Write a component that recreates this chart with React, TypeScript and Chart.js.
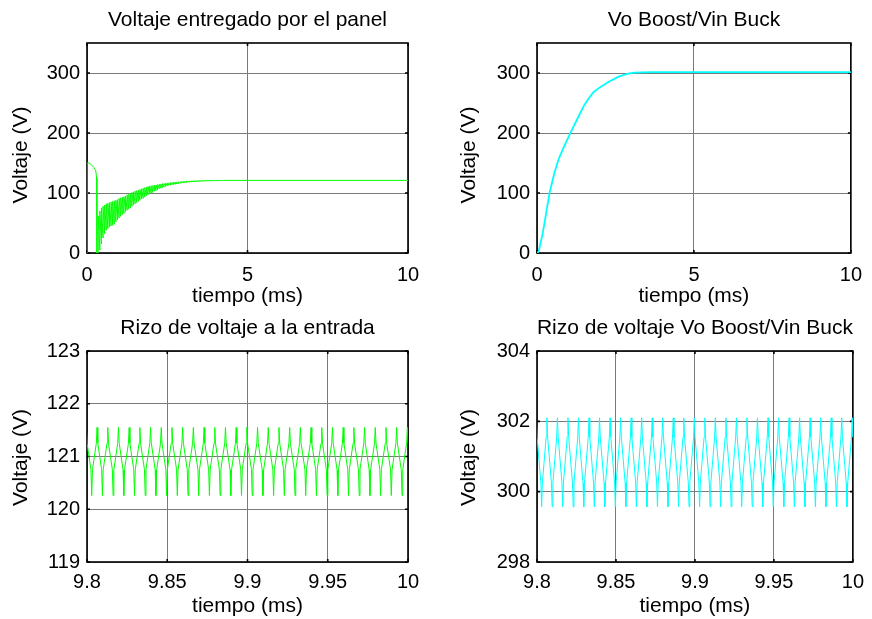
import React, { useEffect, useRef } from "react";
import { Chart, registerables } from "chart.js";
Chart.register(...registerables);

const FONT = "'Liberation Sans', Arial, Helvetica, sans-serif";
const GREEN = "#00ff00";
const CYAN = "#00ffff";

// ---------- Panel 1: Voltaje entregado por el panel ----------
const panelStartTime = [0, 0, 0.08, 0.22, 0.27, 0.3, 0.31];
const panelStartVolt = [0, 150, 150, 142, 138, 125, 0];
const spikeTimes = [
  0.35, 0.4, 0.45, 0.5, 0.55, 0.6, 0.65, 0.7, 0.75, 0.8, 0.85, 0.9, 0.95, 1.0,
  1.05, 1.1, 1.15, 1.2, 1.25, 1.3, 1.35, 1.4, 1.45, 1.5, 1.55, 1.6, 1.65, 1.7, 1.75, 1.8, 1.85, 1.9, 1.95, 2.0,
  2.05, 2.1, 2.15, 2.2, 2.25, 2.3, 2.35, 2.4, 2.45, 2.5, 2.55, 2.6, 2.65, 2.7, 2.75, 2.8, 2.85, 2.9, 2.95, 3.0,
  3.05, 3.1, 3.15, 3.2, 3.25, 3.3, 3.35, 3.4, 3.45, 3.5, 3.55, 3.6, 3.65, 3.7, 3.75, 3.8, 3.85, 3.9, 3.95, 4.0,
  4.05, 4.1, 4.15, 4.2, 4.25, 4.3,
];
const spikeHigh = [
  62, 70, 75, 78, 80, 82, 83, 84, 85, 86, 87, 88, 89, 91,
  92, 93, 94, 95, 97, 98, 99, 101, 102, 103, 104, 105, 106, 107, 108, 109, 110, 111, 111.5, 112,
  112.5, 113, 113.5, 114, 114.5, 115, 115.5, 116, 116.3, 116.6, 117, 117.3, 117.6, 118, 118.2, 118.5, 118.7, 119, 119.2, 119.4,
  119.6, 119.8, 120, 120, 120.2, 120.3, 120.4, 120.5, 120.5, 120.6, 120.7, 120.8, 120.8, 120.9, 121, 121, 121, 121, 121, 121,
  121, 121, 121, 121, 121, 121,
];
const spikeLow = [
  0, 5, 15, 25, 32, 38, 41, 43, 45, 46, 48, 52, 55, 58,
  61, 64, 66, 69, 71, 73, 75, 78, 80, 82, 84, 86, 88, 90, 91, 93, 95, 97, 98, 100,
  101, 103, 104, 105, 107, 108, 109, 110, 111, 112, 112.5, 113, 113.5, 114, 114.5, 115, 115.5, 116, 116.5, 117,
  117.3, 117.6, 117.9, 118.2, 118.4, 118.6, 118.8, 119, 119.2, 119.3, 119.5, 119.6, 119.7, 119.8, 119.9, 120, 120.1, 120.2, 120.3, 120.3,
  120.4, 120.5, 120.6, 120.7, 120.8, 120.9,
];
const panelEndTime = [10];
const panelEndVolt = [121];

// ---------- Panel 2: Vo Boost/Vin Buck ----------
const boostTime = [0, 0.05, 0.18, 0.4, 0.55, 0.7, 0.85, 1.1, 1.3, 1.5, 1.65, 1.8, 2.0, 2.27, 2.6, 2.9, 3.1, 3.6, 10];
const boostVolt = [0, 2, 32, 100, 133, 158, 176, 204, 225, 246, 258, 268, 276, 285, 294, 299, 300.5, 301.5, 301.5];

// ---------- Panels 3 & 4: ripple (one read cycle, repeated) ----------
const ripplePhase = [0, 0.07, 0.43, 0.5, 0.57, 0.93];
const rippleInShape = [121.55, 121.25, 120.75, 120.26, 120.75, 121.25];
const rippleOutShape = [302.1, 301.55, 300.25, 299.57, 300.25, 301.55];
const ripplePeriod = 0.2 / 30;
const rippleStart = 9.7996;
const rippleCycles = 31;

// ---------- Ticks ----------
const xTicksFull = [0, 5, 10];
const xLabelsFull = ["0", "5", "10"];
const yTicksFull = [0, 100, 200, 300];
const yLabelsFull = ["0", "100", "200", "300"];
const xTicksZoom = [9.8, 9.85, 9.9, 9.95, 10];
const xLabelsZoom = ["9.8", "9.85", "9.9", "9.95", "10"];
const yTicksIn = [119, 120, 121, 122, 123];
const yLabelsIn = ["119", "120", "121", "122", "123"];
const yTicksOut = [298, 300, 302, 304];
const yLabelsOut = ["298", "300", "302", "304"];

function buildPanelSeries() {
  const pts: { x: number; y: number }[] = [];
  panelStartTime.forEach((t, i) => pts.push({ x: t, y: panelStartVolt[i] }));
  spikeTimes.forEach((t, i) => {
    pts.push({ x: t, y: spikeLow[i] });
    pts.push({ x: t, y: spikeHigh[i] });
  });
  panelEndTime.forEach((t, i) => pts.push({ x: t, y: panelEndVolt[i] }));
  return pts;
}

function buildBoostSeries() {
  return boostTime.map((t, i) => ({ x: t, y: boostVolt[i] }));
}

function buildRipple(shape: number[]) {
  const pts: { x: number; y: number }[] = [];
  for (let c = 0; c < rippleCycles; c++) {
    ripplePhase.forEach((p, i) => {
      pts.push({ x: rippleStart + (c + p) * ripplePeriod, y: shape[i] });
    });
  }
  pts.push({ x: rippleStart + rippleCycles * ripplePeriod, y: shape[0] });
  return pts;
}

const matlabAxes = {
  id: "matlabAxes",
  beforeDatasetsDraw(chart: any, _args: any, opts: any) {
    const { ctx, chartArea: a } = chart;
    const xs = chart.scales.x;
    const ys = chart.scales.y;
    ctx.save();
    ctx.strokeStyle = "#000";
    ctx.lineWidth = 1.6;
    ctx.strokeRect(a.left, a.top, a.right - a.left, a.bottom - a.top);
    ctx.beginPath();
    for (const t of xs.ticks) {
      const px = xs.getPixelForValue(t.value);
      ctx.moveTo(px, a.bottom);
      ctx.lineTo(px, a.bottom - 3);
      ctx.moveTo(px, a.top);
      ctx.lineTo(px, a.top + 3);
    }
    for (const t of ys.ticks) {
      const py = ys.getPixelForValue(t.value);
      ctx.moveTo(a.left, py);
      ctx.lineTo(a.left + 3, py);
      ctx.moveTo(a.right, py);
      ctx.lineTo(a.right - 3, py);
    }
    ctx.stroke();
    ctx.fillStyle = "#000";
    ctx.font = `21px ${FONT}`;
    ctx.textAlign = "center";
    ctx.textBaseline = "alphabetic";
    ctx.fillText(opts.text, (a.left + a.right) / 2, a.top - 17);
    // y-axis label
    ctx.save();
    ctx.translate(opts.yTitleX, (a.top + a.bottom) / 2 + opts.yTitleDy);
    ctx.rotate(-Math.PI / 2);
    ctx.textBaseline = "middle";
    ctx.fillText(opts.yTitle, 0, 0);
    ctx.restore();
    ctx.restore();
  },
};

type PanelProps = {
  left: number;
  top: number;
  width: number;
  height: number;
  padTop: number;
  padRight: number;
  yWidth: number;
  xHeight: number;
  yTitleX: number;
  yTitleDy: number;
  xTitlePad: number;
  xTickPad: number;
  title: string;
  color: string;
  lineWidth: number;
  data: { x: number; y: number }[];
  xMin: number;
  xMax: number;
  yMin: number;
  yMax: number;
  xTicks: number[];
  xLabels: string[];
  yTicks: number[];
  yLabels: string[];
};

function Panel(p: PanelProps) {
  const ref = useRef<HTMLCanvasElement | null>(null);
  useEffect(() => {
    if (!ref.current) return;
    const tickFont = { family: FONT, size: 20 };
    const labelFont = { family: FONT, size: 21 };
    const chart = new Chart(ref.current, {
      type: "line",
      data: {
        datasets: [
          {
            data: p.data,
            borderColor: p.color,
            borderWidth: p.lineWidth,
            pointRadius: 0,
            tension: 0,
            fill: false,
          },
        ],
      },
      options: {
        animation: false,
        responsive: false,
        devicePixelRatio: 1,
        parsing: false,
        normalized: true,
        layout: { padding: { top: p.padTop, right: p.padRight, left: 0, bottom: 0 } },
        plugins: {
          legend: { display: false },
          tooltip: { enabled: false },
          matlabAxes: { text: p.title, yTitle: "Voltaje (V)", yTitleX: p.yTitleX, yTitleDy: p.yTitleDy },
        } as any,
        scales: {
          x: {
            type: "linear",
            min: p.xMin,
            max: p.xMax,
            afterBuildTicks: (s: any) => {
              s.ticks = p.xTicks.map((v) => ({ value: v }));
            },
            afterFit: (s: any) => {
              s.height = p.xHeight;
            },
            grid: { color: "#7a7a7a", lineWidth: 1, drawTicks: false },
            border: { display: false },
            ticks: {
              font: tickFont,
              color: "#000",
              padding: p.xTickPad,
              maxRotation: 0,
              autoSkip: false,
              callback: (_v: any, i: number) => p.xLabels[i],
            },
            title: {
              display: true,
              text: "tiempo (ms)",
              font: labelFont,
              color: "#000",
              padding: { top: 0, bottom: p.xTitlePad },
            },
          },
          y: {
            type: "linear",
            min: p.yMin,
            max: p.yMax,
            afterBuildTicks: (s: any) => {
              s.ticks = p.yTicks.map((v) => ({ value: v }));
            },
            afterFit: (s: any) => {
              s.width = p.yWidth;
            },
            grid: { color: "#7a7a7a", lineWidth: 1, drawTicks: false },
            border: { display: false },
            ticks: {
              font: tickFont,
              color: "#000",
              padding: 7,
              autoSkip: false,
              callback: (_v: any, i: number) => p.yLabels[i],
            },
            title: { display: false },
          },
        },
      } as any,
      plugins: [matlabAxes as any],
    });
    return () => chart.destroy();
  }, []);
  return (
    <canvas
      ref={ref}
      width={p.width}
      height={p.height}
      style={{ position: "absolute", left: p.left, top: p.top, width: p.width, height: p.height }}
    />
  );
}

export default function App() {
  const panelData = buildPanelSeries();
  const boostData = buildBoostSeries();
  const rippleIn = buildRipple(rippleInShape);
  const rippleOut = buildRipple(rippleOutShape);
  return (
    <div style={{ position: "absolute", left: 0, top: 0, width: 872, height: 619, background: "#fff" }}>
      <Panel
        left={0} top={0} width={436} height={310}
        padTop={43} padRight={28} yWidth={87} xHeight={57} yTitleX={21} yTitleDy={7} xTitlePad={1} xTickPad={10}
        title="Voltaje entregado por el panel" color={GREEN} lineWidth={1}
        data={panelData} xMin={0} xMax={10} yMin={0} yMax={350}
        xTicks={xTicksFull} xLabels={xLabelsFull} yTicks={yTicksFull} yLabels={yLabelsFull}
      />
      <Panel
        left={436} top={0} width={436} height={310}
        padTop={43} padRight={14} yWidth={101} xHeight={57} yTitleX={33} yTitleDy={7} xTitlePad={1} xTickPad={10}
        title="Vo Boost/Vin Buck" color={CYAN} lineWidth={1.8}
        data={boostData} xMin={0} xMax={10} yMin={0} yMax={350}
        xTicks={xTicksFull} xLabels={xLabelsFull} yTicks={yTicksFull} yLabels={yLabelsFull}
      />
      <Panel
        left={0} top={310} width={436} height={309}
        padTop={41} padRight={28} yWidth={87} xHeight={57} yTitleX={21} yTitleDy={1} xTitlePad={0} xTickPad={8}
        title="Rizo de voltaje a la entrada" color={GREEN} lineWidth={1}
        data={rippleIn} xMin={9.8} xMax={10} yMin={119} yMax={123}
        xTicks={xTicksZoom} xLabels={xLabelsZoom} yTicks={yTicksIn} yLabels={yLabelsIn}
      />
      <Panel
        left={436} top={310} width={436} height={309}
        padTop={41} padRight={14} yWidth={101} xHeight={57} yTitleX={33} yTitleDy={1} xTitlePad={0} xTickPad={8}
        title="Rizo de voltaje Vo Boost/Vin Buck" color={CYAN} lineWidth={1}
        data={rippleOut} xMin={9.8} xMax={10} yMin={298} yMax={304}
        xTicks={xTicksZoom} xLabels={xLabelsZoom} yTicks={yTicksOut} yLabels={yLabelsOut}
      />
    </div>
  );
}
